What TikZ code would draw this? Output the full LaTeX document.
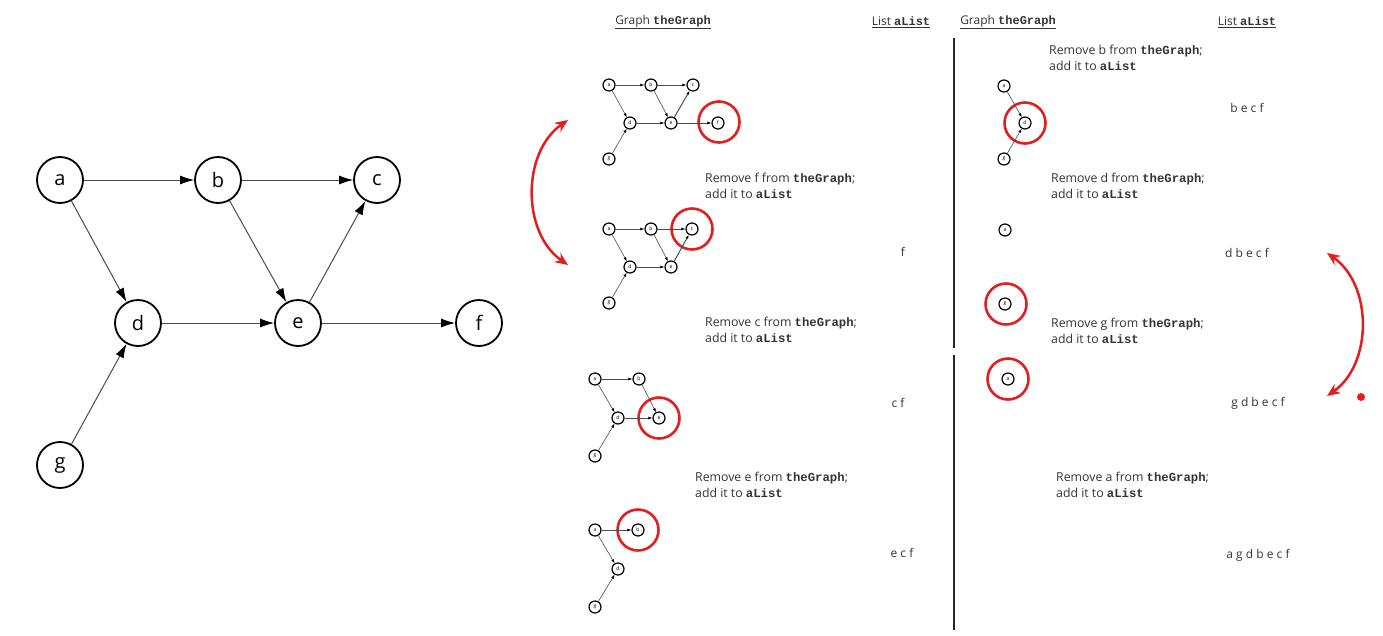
\documentclass[tikz,border=0pt]{standalone}
\usepackage{fontspec}
\setmainfont{Open Sans}
\setmonofont{Liberation Mono}
\usetikzlibrary{arrows.meta}
\definecolor{hlred}{RGB}{226,30,30}
\newcommand{\cd}[1]{\texttt{\bfseries #1}}

\begin{document}
\begin{tikzpicture}[x=1pt, y=-1pt,
  big/.style={circle, draw=black, line width=1.8pt, minimum size=46pt, inner sep=0pt, font=\fontsize{20}{20}\selectfont},
  small/.style={circle, draw=black, line width=1.2pt, minimum size=12pt, inner sep=0pt, font=\fontsize{5}{5}\selectfont},
  hl/.style={circle, draw=hlred, line width=2.6pt, minimum size=41pt, inner sep=0pt},
  edge/.style={draw=black!70, line width=1pt, -{Latex[length=14pt, width=9pt, color=black]}},
  sedge/.style={draw=black!70, line width=0.6pt, -{Latex[length=4pt, width=3pt, color=black]}},
  msg/.style={anchor=west, align=left, inner sep=0pt, font=\fontsize{12.3}{16}\selectfont, text=black!80},
  head/.style={font=\fontsize{12}{14}\selectfont, text=black!80},
  lst/.style={font=\fontsize{12}{14}\selectfont, text=black!80},
  swap/.style={draw=hlred, line width=2.5pt, {Stealth[length=13pt, width=11pt]}-{Stealth[length=13pt, width=11pt]}}]

     \useasboundingbox (0,0) rectangle (1383,635);

     % Grafo completo
     \node[big] (a) at (60,180) {a};
     \node[big] (b) at (218,180) {b};
     \node[big] (c) at (377,180) {c};
     \node[big] (d) at (138,323) {d};
     \node[big] (e) at (298,323) {e};
     \node[big] (f) at (479,323) {f};
     \node[big] (g) at (60,465) {g};

     \draw[edge] (a) -- (b);
     \draw[edge] (b) -- (c);
     \draw[edge] (a) -- (d);
     \draw[edge] (b) -- (e);
     \draw[edge] (e) -- (c);
     \draw[edge] (d) -- (e);
     \draw[edge] (e) -- (f);
     \draw[edge] (g) -- (d);

     % Encabezados
     \node[head] (h1) at (663,22) {\underline{Graph \cd{theGraph}}};
     \node[head] (h2) at (901,22) {\underline{List \cd{aList}}};
     \node[head] (h3) at (1008,22) {\underline{Graph \cd{theGraph}}};
     \node[head] (h4) at (1247,22) {\underline{List \cd{aList}}};

     % Paso 1: quitar f
     \node[small] (a1) at (609,85) {a};
     \node[small] (b1) at (651,85) {b};
     \node[small] (c1) at (693,85) {c};
     \node[small] (d1) at (630,123) {d};
     \node[small] (e1) at (671,123) {e};
     \node[small] (f1) at (718,123) {f};
     \node[small] (g1) at (609,159) {g};
     \node[hl] (r1) at (719,122) {};

     \draw[sedge] (a1) -- (b1);
     \draw[sedge] (b1) -- (c1);
     \draw[sedge] (a1) -- (d1);
     \draw[sedge] (b1) -- (e1);
     \draw[sedge, line width=1pt] (e1) -- (c1);
     \draw[sedge] (d1) -- (e1);
     \draw[sedge] (e1) -- (f1);
     \draw[sedge] (g1) -- (d1);

     \node[msg] (m1) at (705,186) {Remove f from \cd{theGraph};\\add it to \cd{aList}};
     \node[lst] (l1) at (903,252) {f};

     % Paso 2: quitar c
     \node[small] (a2) at (609,229) {a};
     \node[small] (b2) at (651,229) {b};
     \node[small] (c2) at (692,229) {c};
     \node[small] (d2) at (630,267) {d};
     \node[small] (e2) at (671,267) {e};
     \node[small] (g2) at (609,303) {g};
     \node[hl] (r2) at (692,229) {};

     \draw[sedge] (a2) -- (b2);
     \draw[sedge] (b2) -- (c2);
     \draw[sedge] (a2) -- (d2);
     \draw[sedge] (b2) -- (e2);
     \draw[sedge, line width=1pt] (e2) -- (c2);
     \draw[sedge] (d2) -- (e2);
     \draw[sedge] (g2) -- (d2);

     \node[msg] (m2) at (705,330) {Remove c from \cd{theGraph};\\add it to \cd{aList}};
     \node[lst] (l2) at (898,403) {c f};

     % Paso 3: quitar e
     \node[small] (a3) at (595,379) {a};
     \node[small] (b3) at (639,379) {b};
     \node[small] (d3) at (618,418) {d};
     \node[small] (e3) at (659,418) {e};
     \node[small] (g3) at (595,456) {g};
     \node[hl] (r3) at (659,418) {};

     \draw[sedge] (a3) -- (b3);
     \draw[sedge] (a3) -- (d3);
     \draw[sedge] (b3) -- (e3);
     \draw[sedge] (d3) -- (e3);
     \draw[sedge] (g3) -- (d3);

     \node[msg] (m3) at (695,485) {Remove e from \cd{theGraph};\\add it to \cd{aList}};
     \node[lst] (l3) at (902,553) {e c f};

     % Paso 4: quitar b
     \node[small] (a4) at (595,530) {a};
     \node[small] (b4) at (638,530) {b};
     \node[small] (d4) at (618,569) {d};
     \node[small] (g4) at (595,607) {g};
     \node[hl] (r4) at (638,530) {};

     \draw[sedge] (a4) -- (b4);
     \draw[sedge] (a4) -- (d4);
     \draw[sedge] (g4) -- (d4);

     \node[msg] (m4) at (1049,58) {Remove b from \cd{theGraph};\\add it to \cd{aList}};
     \node[lst] (l4) at (1247,108) {b e c f};

     % Paso 5: quitar d
     \node[small] (a5) at (1004,86) {a};
     \node[small] (d5) at (1025,123) {d};
     \node[small] (g5) at (1004,159) {g};
     \node[hl] (r5) at (1025,123) {};

     \draw[sedge] (a5) -- (d5);
     \draw[sedge] (g5) -- (d5);

     \node[msg] (m5) at (1051,186) {Remove d from \cd{theGraph};\\add it to \cd{aList}};
     \node[lst] (l5) at (1247,253) {d b e c f};

     % Paso 6: quitar g
     \node[small] (a6) at (1005,230) {a};
     \node[small] (g6) at (1005,304) {g};
     \node[hl] (r6) at (1006,304) {};

     \node[msg] (m6) at (1051,331) {Remove g from \cd{theGraph};\\add it to \cd{aList}};
     \node[lst] (l6) at (1258,403) {g d b e c f};

     % Paso 7: quitar a
     \node[small] (a7) at (1008,379) {a};
     \node[hl] (r7) at (1008,379) {};

     \node[msg] (m7) at (1056,485) {Remove a from \cd{theGraph};\\add it to \cd{aList}};
     \node[lst] (l7) at (1258,555) {a g d b e c f};

     % Separador vertical
     \draw[black!85, line width=1.8pt] (954,38) -- (954,348);
     \draw[black!85, line width=1.8pt] (954,355) -- (954,630);

     % Flechas rojas
     \coordinate (sw1) at (568,120);
     \coordinate (sw2) at (568,265);
     \coordinate (sw3) at (1327,253);
     \coordinate (sw4) at (1327,396);
     \draw[swap] (sw1) to[bend right=55] (sw2);
     \draw[swap] (sw3) to[bend left=55] (sw4);
     \node[circle, fill=hlred, inner sep=0pt, minimum size=8pt] (dot) at (1361,397) {};

\end{tikzpicture}
\end{document}
